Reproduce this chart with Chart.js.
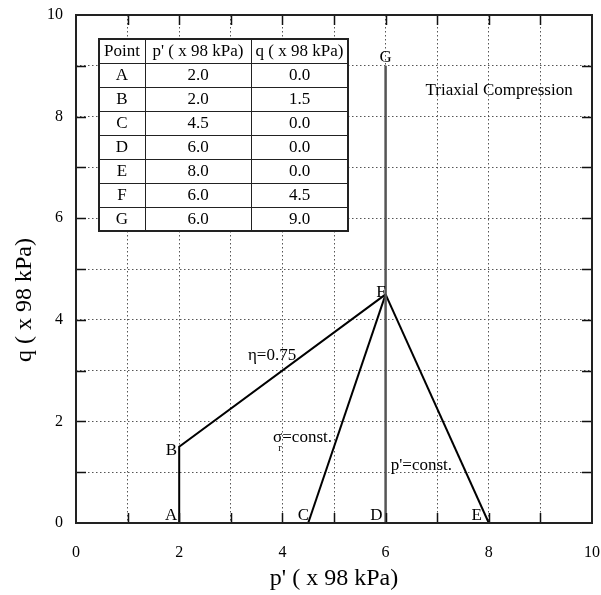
<!DOCTYPE html>
<html>
<head>
<meta charset="utf-8">
<script src="https://cdn.jsdelivr.net/npm/chart.js@4.4.1/dist/chart.umd.min.js"></script>
<style>
    html, body { margin: 0; padding: 0; background: #fff; }
    #wrap { width: 601px; height: 595px; }
</style>
</head>
<body>
<div id="wrap"><canvas id="stress-path-chart" width="601" height="595"></canvas></div>
<script>
const pointNames = ['A', 'B', 'C', 'D', 'E', 'F', 'G'];
const pValues = [2.0, 2.0, 4.5, 6.0, 8.0, 6.0, 6.0];
const qValues = [0.0, 1.5, 0.0, 0.0, 0.0, 4.5, 9.0];

// stress paths, as lists of point names
const pathABF = ['A', 'B', 'F'];
const pathCF = ['C', 'F'];
const pathEF = ['E', 'F'];
const pathDG = ['D', 'G'];

const tableHeaders = ['Point', "p' ( x 98 kPa)", 'q ( x 98 kPa)'];
const axisTicks = [0, 2, 4, 6, 8, 10];

const serif = "'Liberation Serif', 'Times New Roman', serif";

function pathData(names) {
    return names.map(n => {
        const i = pointNames.indexOf(n);
        return { x: pValues[i], y: qValues[i] };
    });
}

function lineSet(names, color, width) {
    return {
        data: pathData(names),
        showLine: true,
        borderColor: color,
        borderWidth: width,
        pointRadius: 0,
        fill: false
    };
}

// label placement next to each point: dx, dy in px and text alignment
const pointLabelStyle = {
    A: { dx: -2, dy: -3, align: 'right' },
    B: { dx: -2, dy: 8, align: 'right' },
    C: { dx: 1, dy: -3, align: 'right' },
    D: { dx: -3, dy: -3, align: 'right' },
    E: { dx: -7, dy: -3, align: 'right' },
    F: { dx: 0, dy: 3, align: 'right' },
    G: { dx: 0, dy: -4, align: 'center' }
};

const notes = [
    { text: '\u03b7=0.75', p: 3.80, q: 3.29, align: 'center' },
    { text: "p'=const.", p: 6.10, q: 1.14, align: 'left' },
    { text: 'Triaxial Compression', p: 8.20, q: 8.52, align: 'center' }
];

const annotationPlugin = {
    id: 'annotations',
    afterDraw(chart) {
        const { ctx, chartArea, scales } = chart;
        const xs = scales.x, ys = scales.y;
        ctx.save();

        // inward tick marks on all four sides
        ctx.strokeStyle = '#111';
        ctx.lineWidth = 1.5;
        const len = 10;
        for (let v = 1; v < 10; v++) {
            const px = Math.round(xs.getPixelForValue(v)) + 0.5;
            const py = Math.round(ys.getPixelForValue(v)) + 0.5;
            ctx.beginPath();
            ctx.moveTo(px, chartArea.bottom); ctx.lineTo(px, chartArea.bottom - len);
            ctx.moveTo(px, chartArea.top); ctx.lineTo(px, chartArea.top + len);
            ctx.moveTo(chartArea.left, py); ctx.lineTo(chartArea.left + len, py);
            ctx.moveTo(chartArea.right, py); ctx.lineTo(chartArea.right - len, py);
            ctx.stroke();
        }

        // frame
        ctx.lineWidth = 2;
        ctx.strokeStyle = '#222';
        ctx.strokeRect(chartArea.left, chartArea.top, chartArea.right - chartArea.left, chartArea.bottom - chartArea.top);

        // point letters
        ctx.fillStyle = '#000';
        ctx.font = '17px ' + serif;
        ctx.textBaseline = 'alphabetic';
        pointNames.forEach((n, i) => {
            const s = pointLabelStyle[n];
            ctx.textAlign = s.align;
            ctx.fillText(n, xs.getPixelForValue(pValues[i]) + s.dx, ys.getPixelForValue(qValues[i]) + s.dy);
        });

        // path notes
        ctx.font = '17px ' + serif;
        ctx.textBaseline = 'middle';
        notes.forEach(nt => {
            ctx.textAlign = nt.align;
            ctx.fillText(nt.text, xs.getPixelForValue(nt.p), ys.getPixelForValue(nt.q));
        });

        // sigma_r = const. with subscript
        const sx = xs.getPixelForValue(3.82), sy = ys.getPixelForValue(1.69);
        ctx.textAlign = 'left';
        ctx.fillText('\u03c3', sx, sy);
        const sw = ctx.measureText('\u03c3').width;
        ctx.fillText('=const.', sx + sw, sy);
        ctx.font = '10px ' + serif;
        ctx.fillText('r', sx + sw - 4, sy + 11);

        // y axis title
        ctx.font = '24px ' + serif;
        ctx.textAlign = 'center';
        ctx.translate(chartArea.left - 51, (chartArea.top + chartArea.bottom) / 2 + 31);
        ctx.rotate(-Math.PI / 2);
        ctx.fillText('q ( x 98 kPa)', 0, 0);
        ctx.restore();

        // coordinates table in the upper left corner
        ctx.save();
        const colW = [46, 106, 97];
        const rowH = 24;
        const tx = chartArea.left + 23, ty = chartArea.top + 24;
        const tw = colW.reduce((a, b) => a + b, 0);
        const th = rowH * (pointNames.length + 1);
        ctx.fillStyle = '#fff';
        ctx.fillRect(tx, ty, tw, th);
        ctx.strokeStyle = '#222';
        ctx.lineWidth = 1;
        ctx.beginPath();
        for (let r = 1; r <= pointNames.length; r++) {
            ctx.moveTo(tx, ty + r * rowH + 0.5); ctx.lineTo(tx + tw, ty + r * rowH + 0.5);
        }
        let cx = tx;
        for (let c = 0; c < colW.length - 1; c++) {
            cx += colW[c];
            ctx.moveTo(cx + 0.5, ty); ctx.lineTo(cx + 0.5, ty + th);
        }
        ctx.stroke();
        ctx.lineWidth = 2;
        ctx.strokeRect(tx, ty, tw, th);

        ctx.fillStyle = '#000';
        ctx.font = '17px ' + serif;
        ctx.textAlign = 'center';
        ctx.textBaseline = 'middle';
        const rows = [tableHeaders].concat(pointNames.map((n, i) => [n, pValues[i].toFixed(1), qValues[i].toFixed(1)]));
        rows.forEach((row, r) => {
            let x0 = tx;
            row.forEach((cell, c) => {
                ctx.fillText(cell, x0 + colW[c] / 2, ty + r * rowH + rowH / 2 + 1);
                x0 += colW[c];
            });
        });
        ctx.restore();
    }
};

const stressPathCanvas = document.getElementById('stress-path-chart');
const stressPathChart = new Chart(stressPathCanvas, {
    type: 'scatter',
    data: {
        datasets: [
            lineSet(pathDG, '#555', 2.5),
            lineSet(pathABF, '#000', 2),
            lineSet(pathCF, '#000', 2),
            lineSet(pathEF, '#000', 2)
        ]
    },
    options: {
        responsive: false,
        animation: false,
        layout: { padding: { top: 15, right: 9, left: 0, bottom: 0 } },
        plugins: {
            legend: { display: false },
            tooltip: { enabled: false }
        },
        scales: {
            x: {
                type: 'linear',
                min: 0,
                max: 10,
                afterFit: scale => {
                    scale.height = 72;
                    scale.paddingLeft = 0;
                    scale.paddingRight = 0;
                },
                grid: {
                    color: '#555',
                    lineWidth: 1,
                    drawTicks: false
                },
                border: { display: false, dash: [1.5, 2.5] },
                ticks: {
                    stepSize: 1,
                    autoSkip: false,
                    padding: 20,
                    color: '#000',
                    font: { family: serif, size: 16 },
                    callback: v => axisTicks.includes(v) ? String(v) : ''
                },
                title: {
                    display: true,
                    text: "p' ( x 98 kPa)",
                    color: '#000',
                    font: { family: serif, size: 24, lineHeight: 1 },
                    padding: { top: 0, bottom: 4 }
                }
            },
            y: {
                type: 'linear',
                min: 0,
                max: 10,
                afterFit: scale => {
                    scale.width = 76;
                    scale.paddingTop = 0;
                    scale.paddingBottom = 0;
                },
                grid: {
                    color: '#555',
                    lineWidth: 1,
                    drawTicks: false
                },
                border: { display: false, dash: [1.5, 2.5] },
                ticks: {
                    stepSize: 1,
                    autoSkip: false,
                    padding: 13,
                    color: '#000',
                    font: { family: serif, size: 16 },
                    callback: v => axisTicks.includes(v) ? String(v) : ''
                }
            }
        }
    },
    plugins: [annotationPlugin]
});
</script>
</body>
</html>
